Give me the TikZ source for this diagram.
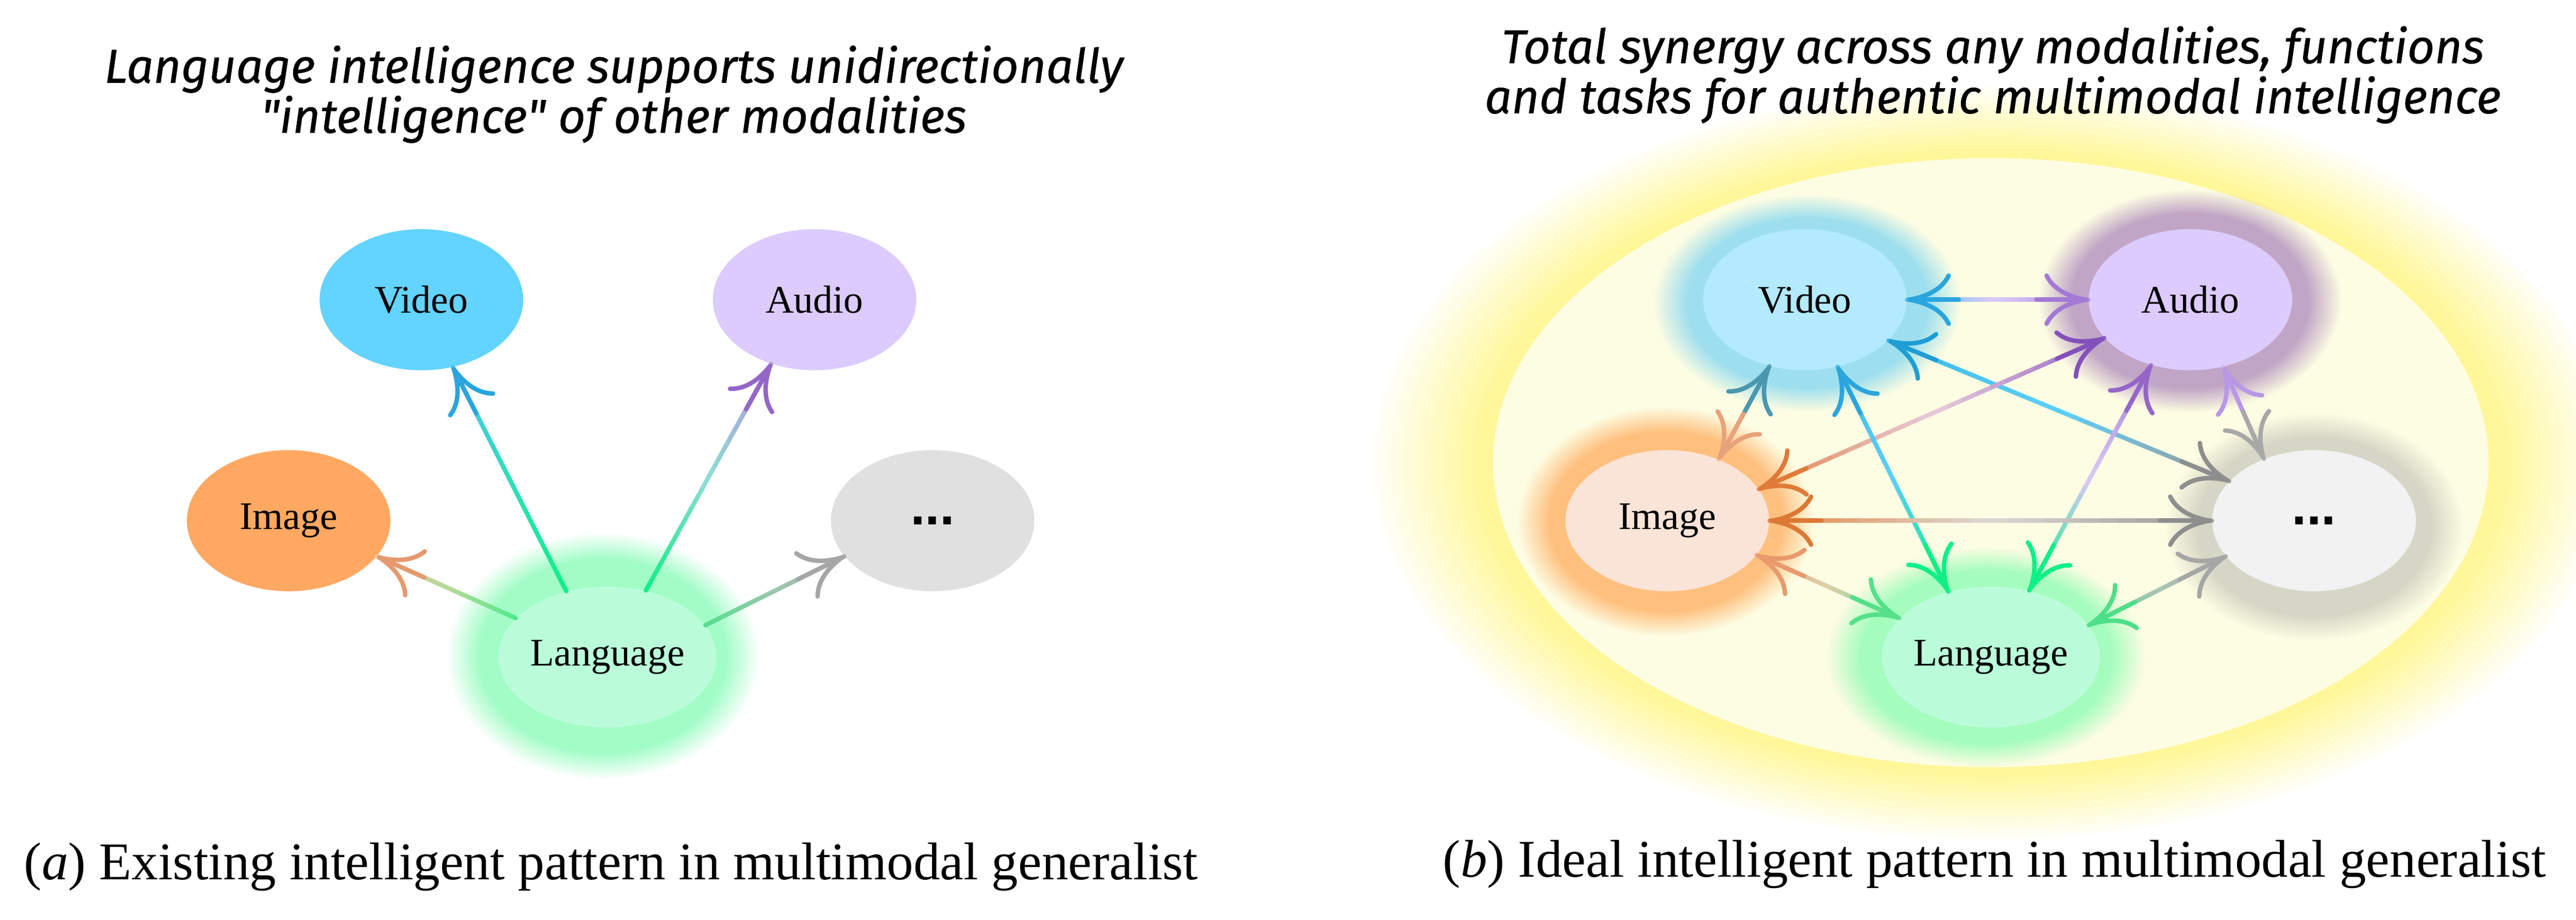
\documentclass[tikz,border=0pt]{standalone}
\usepackage{fontspec}
\setmainfont{Liberation Serif}
\newfontfamily\handfont{Fira Sans}[FakeBold=0.6]
\newfontfamily\dotfont{Liberation Sans}
\usetikzlibrary{arrows.meta,calc,shapes.geometric,fadings}

\definecolor{vidfill}{HTML}{63D3FF}
\definecolor{audfill}{HTML}{DCCBFD}
\definecolor{imgfill}{HTML}{FEA862}
\definecolor{dotfill}{HTML}{E0E0E0}
\definecolor{lanfill}{HTML}{BAFCDA}
\definecolor{vidsoft}{HTML}{B3EAFD}
\definecolor{imgsoft}{HTML}{FAE4D8}
\definecolor{dotsoft}{HTML}{F2F2F2}
\definecolor{langlow}{HTML}{A1FCC6}
\definecolor{vidglow}{HTML}{9DDFEE}
\definecolor{audglow}{HTML}{C0A5C6}
\definecolor{imgglow}{HTML}{FFC07E}
\definecolor{dotglow}{HTML}{D6D6C6}
\definecolor{langlowb}{HTML}{A4FCBD}
\definecolor{haze}{HTML}{FFF799}
\definecolor{innerbg}{HTML}{FDFDE3}
\definecolor{maskcol}{gray}{0}

%% soft edges
\pgfdeclareradialshading{glowshade}{\pgfpointorigin}{color(0bp)=(maskcol!0); color(19.5bp)=(maskcol!0); color(25bp)=(maskcol!100); color(50bp)=(maskcol!100)}
\pgfdeclarefading{glowfade}{\pgfuseshading{glowshade}}
\pgfdeclareradialshading{hazeshade}{\pgfpointorigin}{color(0bp)=(maskcol!0); color(20.5bp)=(maskcol!0); color(25bp)=(maskcol!100); color(50bp)=(maskcol!100)}
\pgfdeclarefading{hazefade}{\pgfuseshading{hazeshade}}

%% line with colour running from #3 over #4 to #5
\newcommand{\gline}[5]{%
  \definecolor{ga}{HTML}{#3}\definecolor{gm}{HTML}{#4}\definecolor{gb}{HTML}{#5}%
  \foreach \k in {1,...,24}{%
    \pgfmathsetmacro{\ta}{(\k-1)/24}%
    \pgfmathsetmacro{\tb}{\k/24}%
    \ifnum\k<13\relax
      \pgfmathtruncatemacro{\pc}{100-100*(\k-1)/11}%
      \colorlet{segcol}{ga!\pc!gm}%
    \else
      \pgfmathtruncatemacro{\pc}{100-100*(\k-13)/11}%
      \colorlet{segcol}{gm!\pc!gb}%
    \fi
    \draw[wire, segcol] ($(#1)!\ta!(#2)$) -- ($(#1)!\tb!(#2)$);
  }}
%% arrow head at #2, coming from #1
\newcommand{\tipat}[3]{%
  \definecolor{gt}{HTML}{#3}%
  \draw[wire, gt, -{To[length=5.5mm,width=6.6mm,round]}] ($(#2)!6.5mm!(#1)$) -- (#2);}

\begin{document}
\begin{tikzpicture}[
		mod/.style={ellipse, minimum width=2.56cm, minimum height=1.775cm, inner sep=0pt, font=\fontsize{14}{16}\selectfont},
		dots/.style={font=\dotfont\bfseries\fontsize{19}{19}\selectfont},
		halo/.style={fill=#1, path fading=glowfade},
		wire/.style={line width=1.6pt, line cap=round},
		ttl/.style={font=\handfont\itshape\fontsize{17}{19}\selectfont, anchor=base},
		captext/.style={font=\fontsize{19}{22}\selectfont, anchor=base}]
	\useasboundingbox (0,0) rectangle (32.4,-11.57);
	%% define places
	\coordinate (pVa) at (5.30,-3.77);
	\coordinate (pAa) at (10.245,-3.77);
	\coordinate (pIa) at (3.63,-6.55);
	\coordinate (pDa) at (11.73,-6.55);
	\coordinate (pLa) at (7.64,-8.265);
	\coordinate (pVb) at (22.70,-3.77);
	\coordinate (pAb) at (27.55,-3.77);
	\coordinate (pIb) at (20.97,-6.55);
	\coordinate (pDb) at (29.105,-6.55);
	\coordinate (pLb) at (25.04,-8.265);
	%% define background
	\fill[haze, path fading=hazefade] (25.04,-5.82) ellipse [x radius=7.8cm, y radius=4.75cm];
	\fill[innerbg] (25.04,-5.82) ellipse [x radius=6.26cm, y radius=3.83cm];
	\fill[halo=langlow] (7.58,-8.25) ellipse [x radius=1.97cm, y radius=1.55cm];
	\fill[halo=vidglow] (22.73,-3.81) ellipse [x radius=1.93cm, y radius=1.36cm];
	\fill[halo=audglow] (27.545,-3.785) ellipse [x radius=1.9cm, y radius=1.4cm];
	\fill[halo=imgglow] (20.95,-6.56) ellipse [x radius=1.86cm, y radius=1.44cm];
	\fill[halo=dotglow] (29.105,-6.625) ellipse [x radius=1.87cm, y radius=1.43cm];
	\fill[halo=langlowb] (24.975,-8.265) ellipse [x radius=2.0cm, y radius=1.38cm];
	%% define nodes
	\node[mod, fill=vidfill] (vidA) at (pVa) {Video};
	\node[mod, fill=audfill] (audA) at (pAa) {Audio};
	\node[mod, fill=imgfill] (imgA) at (pIa) {Image};
	\node[mod, dots, fill=dotfill] (dotA) at (pDa) {...};
	\node[mod, fill=lanfill] (lanA) at (pLa) {Language};
	\node[mod, fill=vidsoft] (vidB) at (pVb) {Video};
	\node[mod, fill=audfill] (audB) at (pAb) {Audio};
	\node[mod, fill=imgsoft] (imgB) at (pIb) {Image};
	\node[mod, dots, fill=dotsoft] (dotB) at (pDb) {...};
	\node[mod, fill=lanfill] (lanB) at (pLb) {Language};
	%% define texts
	\node[ttl] (titA1) at (7.72,-1.04) {Language intelligence supports unidirectionally};
	\node[ttl] (titA2) at (7.72,-1.67) {"intelligence" of other modalities};
	\node[ttl] (titB1) at (25.065,-0.795) {Total synergy across any modalities, functions};
	\node[ttl] (titB2) at (25.065,-1.425) {and tasks for authentic multimodal intelligence};
	\node[captext] (capA) at (7.685,-11.065) {(\textit{a}) Existing intelligent pattern in multimodal generalist};
	\node[captext] (capB) at (25.085,-11.03) {(\textit{b}) Ideal intelligent pattern in multimodal generalist};
	%% define arrows (a)
	\gline{lanA.122}{vidA.-65}{0EF087}{2EE0B8}{4CC2F0}
	\tipat{lanA.122}{vidA.-65}{2AA5DD}
	\gline{lanA.60}{audA.236}{0EF087}{8EDCD4}{B395E0}
	\tipat{lanA.60}{audA.236}{9466C8}
	\gline{lanA.157}{imgA.-22}{52E88A}{B5DB98}{F3C3A0}
	\tipat{lanA.157}{imgA.-22}{E59A6E}
	\gline{lanA.18}{dotA.202}{55DE8E}{9AC8AE}{ABABAB}
	\tipat{lanA.18}{dotA.202}{A6A6A6}
	%% define arrows (b)
	\gline{vidB.0}{audB.180}{4CC4F2}{D9C8FB}{AD8CDC}
	\tipat{audB.180}{vidB.0}{2AA5DD}
	\tipat{vidB.0}{audB.180}{A27AD6}
	\gline{vidB.-26}{dotB.155}{3DB8EA}{5CCFF8}{9C9C9C}
	\tipat{dotB.155}{vidB.-26}{1E9ED4}
	\tipat{vidB.-26}{dotB.155}{8E8E8E}
	\gline{audB.204}{imgB.19}{9466C8}{E6C8D8}{E58A50}
	\tipat{imgB.19}{audB.204}{8450BB}
	\tipat{audB.204}{imgB.19}{E07A38}
	\gline{vidB.242}{imgB.50}{5A9EB4}{C4C6C0}{F0BC98}
	\tipat{imgB.50}{vidB.242}{4A98B0}
	\tipat{vidB.242}{imgB.50}{E8A27A}
	\gline{vidB.-64}{lanB.123}{40BCEC}{5CCFF8}{10F088}
	\tipat{lanB.123}{vidB.-64}{2AA5DD}
	\tipat{vidB.-64}{lanB.123}{0EF087}
	\gline{audB.239}{lanB.60}{A07AD0}{D8C8F8}{10F088}
	\tipat{lanB.60}{audB.239}{9466C8}
	\tipat{audB.239}{lanB.60}{0EF087}
	\gline{audB.-64}{dotB.129}{CDB8F2}{D6CCE8}{B0B0B0}
	\tipat{dotB.129}{audB.-64}{B898E6}
	\tipat{audB.-64}{dotB.129}{A8A8A8}
	\gline{imgB.0}{dotB.180}{E58A4A}{DCD6D0}{9A9A9A}
	\tipat{dotB.180}{imgB.0}{DE7835}
	\tipat{imgB.0}{dotB.180}{8E8E8E}
	\gline{imgB.-21}{lanB.157}{EDA57A}{DCCFAA}{62E293}
	\tipat{lanB.157}{imgB.-21}{E89A6C}
	\tipat{imgB.-21}{lanB.157}{55E08A}
	\gline{dotB.202}{lanB.18}{ABABAB}{A8C4B4}{55DE8E}
	\tipat{lanB.18}{dotB.202}{A6A6A6}
	\tipat{dotB.202}{lanB.18}{4EDF88}
\end{tikzpicture}
\end{document}
